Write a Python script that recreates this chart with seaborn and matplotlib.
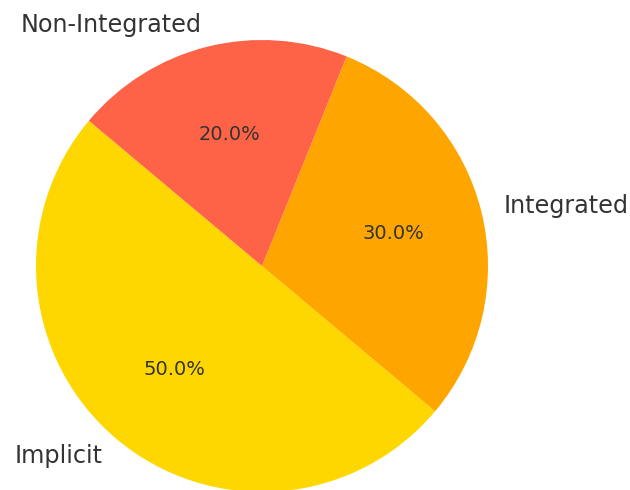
import matplotlib
matplotlib.use("Agg")
import matplotlib.pyplot as plt
import seaborn as sns

sns.set_theme(style="white")
plt.rcParams['font.family'] = ['DejaVu Sans']

categories = ["Implicit", "Integrated", "Non-Integrated"]
shares = [50, 30, 20]
slice_colors = ["#FFD700", "#FFA500", "#FF6347"]

fig = plt.figure(figsize=(6.3, 4.9), dpi=100)
ax = fig.add_axes([36 / 630, -2 / 490, 452 / 630, 452 / 490])

wedges, texts, autotexts = ax.pie(
    shares,
    labels=categories,
    colors=slice_colors,
    autopct="%1.1f%%",
    startangle=140,
    textprops={"color": "#333333"},
    wedgeprops={"linewidth": 0, "edgecolor": "none"},
)
for t in texts:
    t.set_fontsize(17.2)
for t in autotexts:
    t.set_fontsize(14)

ax.set_xlim(-1, 1)
ax.set_ylim(-1, 1)
ax.set_aspect("equal")
ax.axis("off")

fig.savefig("out.png", dpi=100)
